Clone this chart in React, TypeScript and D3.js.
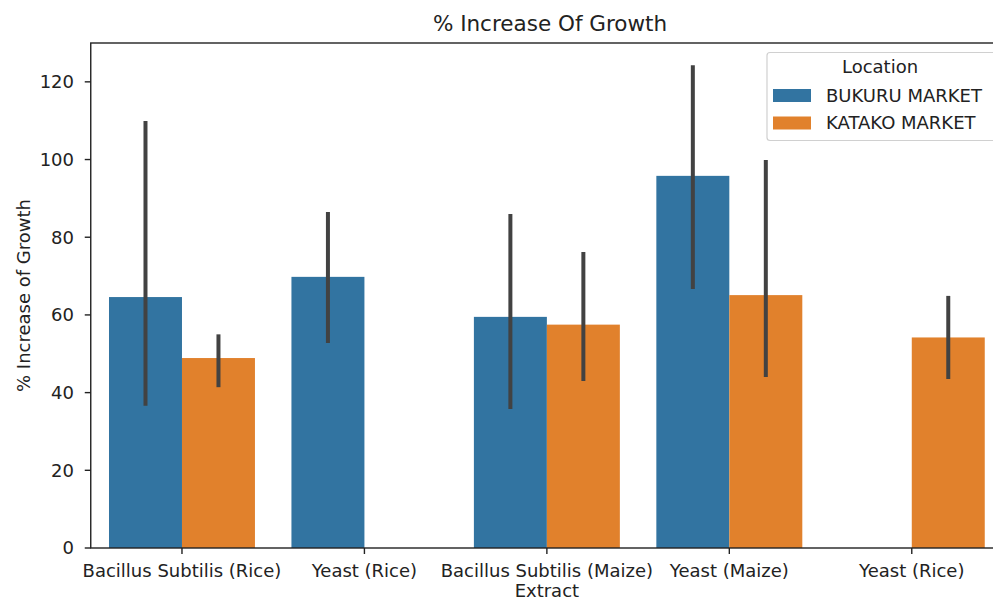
import React from "react";
import * as d3 from "d3";

const categories = [
  "Bacillus Subtilis (Rice)",
  "Yeast (Rice)",
  "Bacillus Subtilis (Maize)",
  "Yeast (Maize)",
  "Yeast (Rice)",
];
const hues = ["BUKURU MARKET", "KATAKO MARKET"];
const colors = ["#3274a1", "#e1812c"];

// values per hue (null = no bar)
const bukuruMean = [64.6, 69.8, 59.5, 95.8, null];
const bukuruLow = [36.6, 52.8, 35.8, 66.7, null];
const bukuruHigh = [109.9, 86.5, 86.0, 124.3, null];

const katakoMean = [48.9, null, 57.5, 65.1, 54.2];
const katakoLow = [41.4, null, 43.0, 44.0, 43.5];
const katakoHigh = [55.0, null, 76.2, 99.9, 64.9];

const yTicks = [0, 20, 40, 60, 80, 100, 120];

const W = 993;
const H = 602;
const left = 90.75;
const right = 1003;
const top = 43;
const bottom = 548;
const FONT = "DejaVu Sans, sans-serif";
const TXT = "#222";

export default function App() {
  const x = d3
    .scaleBand<number>()
    .domain(categories.map((_, i) => i))
    .range([left, right])
    .paddingInner(0)
    .paddingOuter(0);
  const y = d3.scaleLinear().domain([0, 130]).range([bottom, top]);
  const bw = x.bandwidth();
  const barW = bw * 0.4;

  const series = [
    { mean: bukuruMean, low: bukuruLow, high: bukuruHigh },
    { mean: katakoMean, low: katakoLow, high: katakoHigh },
  ];

  const tickFont = 18;

  return (
    <svg
      width={W}
      height={H}
      style={{ position: "absolute", left: 0, top: 0, background: "#fff" }}
      fontFamily={FONT}
    >
      {/* bars */}
      {series.map((s, h) =>
        s.mean.map((v, i) =>
          v == null ? null : (
            <rect
              key={`b${h}-${i}`}
              x={x(i)! + bw * 0.1 + h * barW}
              y={y(v)}
              width={barW}
              height={y(0) - y(v)}
              fill={colors[h]}
            />
          )
        )
      )}
      {/* error bars */}
      {series.map((s, h) =>
        s.mean.map((v, i) =>
          v == null ? null : (
            <line
              key={`e${h}-${i}`}
              x1={x(i)! + bw * 0.1 + h * barW + barW / 2}
              x2={x(i)! + bw * 0.1 + h * barW + barW / 2}
              y1={y(s.low[i] as number)}
              y2={y(s.high[i] as number)}
              stroke="#424242"
              strokeWidth={4}
            />
          )
        )
      )}
      {/* spines */}
      <rect
        x={left}
        y={top}
        width={right - left}
        height={bottom - top}
        fill="none"
        stroke="#222"
        strokeWidth={1.4}
      />
      {/* y ticks */}
      {yTicks.map((t) => (
        <g key={`yt${t}`}>
          <line x1={left - 6} x2={left} y1={y(t)} y2={y(t)} stroke="#222" strokeWidth={1.4} />
          <text
            x={74}
            y={y(t)}
            dy="0.35em"
            textAnchor="end"
            fontSize={tickFont}
            fill={TXT}
          >
            {t}
          </text>
        </g>
      ))}
      {/* x ticks */}
      {categories.map((c, i) => (
        <g key={`xt${i}`}>
          <line
            x1={x(i)! + bw / 2}
            x2={x(i)! + bw / 2}
            y1={bottom}
            y2={bottom + 6}
            stroke="#222"
            strokeWidth={1.4}
          />
          <text
            x={x(i)! + bw / 2}
            y={577}
            textAnchor="middle"
            fontSize={tickFont}
            fill={TXT}
          >
            {c}
          </text>
        </g>
      ))}
      {/* axis labels */}
      <text x={(left + right) / 2} y={597} textAnchor="middle" fontSize={18} fill={TXT}>
        Extract
      </text>
      <text
        transform={`translate(30,${(top + bottom) / 2}) rotate(-90)`}
        textAnchor="middle"
        fontSize={18}
        fill={TXT}
      >
        % Increase of Growth
      </text>
      {/* title */}
      <text x={550} y={31} textAnchor="middle" fontSize={21.5} fill={TXT}>
        % Increase Of Growth
      </text>
      {/* legend */}
      <g>
        <rect
          x={767}
          y={52.5}
          width={230}
          height={88}
          rx={3}
          fill="#fff"
          fillOpacity={0.8}
          stroke="#d0d0d0"
          strokeWidth={1.2}
        />
        <text x={880} y={73} textAnchor="middle" fontSize={tickFont} fill={TXT}>
          Location
        </text>
        {hues.map((hname, h) => (
          <g key={`lg${h}`}>
            <rect x={773} y={89 + h * 27.5} width={38} height={13} fill={colors[h]} />
            <text x={826} y={101.7 + h * 26.8} fontSize={tickFont} fill={TXT}>
              {hname}
            </text>
          </g>
        ))}
      </g>
    </svg>
  );
}
